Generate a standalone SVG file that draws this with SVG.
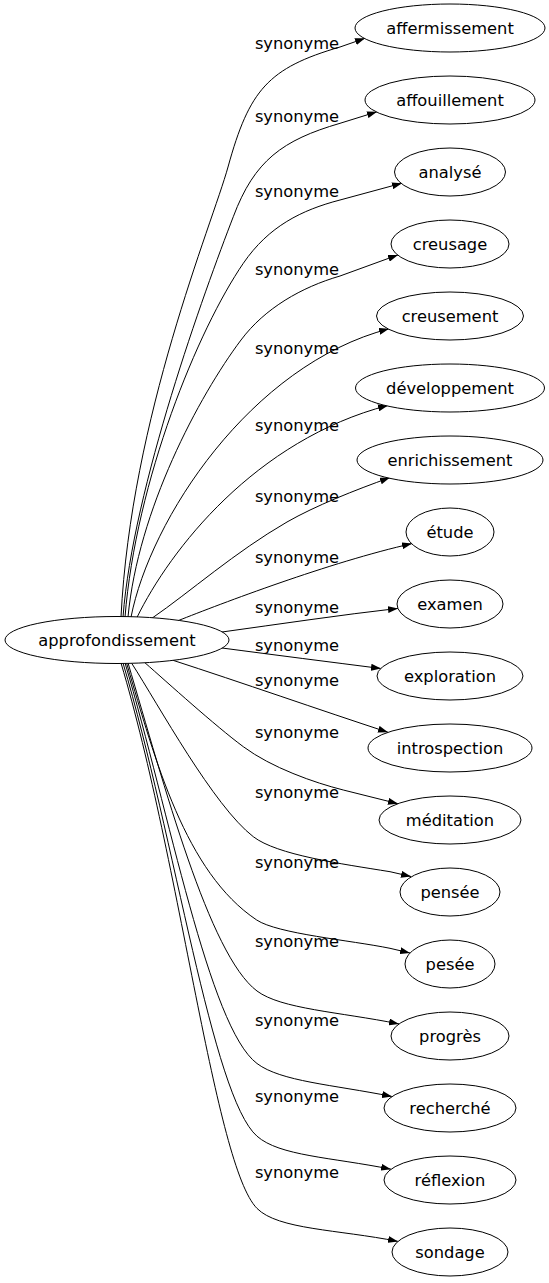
<svg xmlns="http://www.w3.org/2000/svg" width="549" height="1283" viewBox="0 0 549 1283">
<defs>
<marker id="ah" markerWidth="10" markerHeight="7" refX="10" refY="3.5" orient="auto" markerUnits="userSpaceOnUse">
<path d="M0,0 L10,3.5 L0,7 Z" fill="#000"/>
</marker>
<style>
.n ellipse{fill:#fff;stroke:#000;stroke-width:1}
.n text,.lbl{font-family:"DejaVu Sans","Liberation Sans",sans-serif;font-size:16.3px;fill:#000;text-anchor:middle}
.e path{fill:none;stroke:#000;stroke-width:1;marker-end:url(#ah)}
</style>
</defs>
<rect width="549" height="1283" fill="#fff"/>
<g id="edges" class="e">
<path d="M121,617 C131,417 212,224.8 228,167 C249.3,89.9 268,68 340,47 L365,38.3"/>
<path d="M123,617 C133,487 205,290 233.3,216.7 C254.4,160.5 282.4,140.1 340,123.3 L377,111.8"/>
<path d="M125,617.1 C136,480 198.1,329.3 243.3,263.3 C268.7,226.2 301.6,210 340,200 L402,183.2"/>
<path d="M128,617.1 C138,510 199,396 241,340 C265,308 301.6,287.2 340,276 L398,254.9"/>
<path d="M131,617.2 C150,520 250,365 389,328.8"/>
<path d="M137,617.4 C170,550 255,440 388,405.4"/>
<path d="M152,618.2 C190,592 235,552 287,522 C315,506 355,490 390,477.6"/>
<path d="M178,620.7 C220,604 330,562 412,543.6"/>
<path d="M222,632 C280,624 340,615 398,608.4"/>
<path d="M222,648 C275,655 330,662 381,668.5"/>
<path d="M173,660.3 C240,682 320,710 388,732.3"/>
<path d="M145,662.8 C167.5,682.6 215.2,725.8 243.3,746.7 C271.4,767.6 314.2,782.7 343.3,790 L398,803.7"/>
<path d="M131.7,663.3 C158.7,705.3 213.7,806.2 253.3,836.7 C277.1,855 340.6,863.7 390,871.7 L411,876.5"/>
<path d="M126.7,663.5 C155.4,760.9 185.3,872.4 256.7,920 C277.5,933.8 350.8,940.3 390,948.3 L410,953"/>
<path d="M128,662.9 C164,784.3 209,955 257,991 C281,1009 339,1011.9 399,1023.9"/>
<path d="M125,662.9 C169,810.9 209,1027.5 257,1063.5 C281,1081.5 332,1084.5 392,1096.5"/>
<path d="M123,663 C175,838 212,1096.6 257,1136.2 C279.5,1156 331,1157.2 391,1169.2"/>
<path d="M121,663 C181,864.7 215,1165.8 257,1208.4 C278,1229.7 338,1229.4 398,1241.4"/>
</g>
<g id="edge-labels">
<text class="lbl" x="297" y="49">synonyme</text>
<text class="lbl" x="297" y="122">synonyme</text>
<text class="lbl" x="297" y="197">synonyme</text>
<text class="lbl" x="297" y="275">synonyme</text>
<text class="lbl" x="297" y="354">synonyme</text>
<text class="lbl" x="297" y="431">synonyme</text>
<text class="lbl" x="297" y="502">synonyme</text>
<text class="lbl" x="297" y="563">synonyme</text>
<text class="lbl" x="297" y="613">synonyme</text>
<text class="lbl" x="297" y="651">synonyme</text>
<text class="lbl" x="297" y="686">synonyme</text>
<text class="lbl" x="297" y="738">synonyme</text>
<text class="lbl" x="297" y="798">synonyme</text>
<text class="lbl" x="297" y="868">synonyme</text>
<text class="lbl" x="297" y="947">synonyme</text>
<text class="lbl" x="297" y="1026">synonyme</text>
<text class="lbl" x="297" y="1102">synonyme</text>
<text class="lbl" x="297" y="1178">synonyme</text>
</g>
<g id="n-approfondissement" class="n"><ellipse cx="117" cy="640" rx="112" ry="23.5"/><text x="117" y="645.5">approfondissement</text></g>
<g id="n-affermissement" class="n"><ellipse cx="450" cy="28" rx="95" ry="24"/><text x="450" y="33.5">affermissement</text></g>
<g id="n-affouillement" class="n"><ellipse cx="450" cy="100" rx="85" ry="24"/><text x="450" y="105.5">affouillement</text></g>
<g id="n-analyse" class="n"><ellipse cx="450" cy="172" rx="55.5" ry="24"/><text x="450" y="177.5">analysé</text></g>
<g id="n-creusage" class="n"><ellipse cx="450" cy="244" rx="59" ry="24"/><text x="450" y="249.5">creusage</text></g>
<g id="n-creusement" class="n"><ellipse cx="450" cy="316" rx="73.5" ry="24"/><text x="450" y="321.5">creusement</text></g>
<g id="n-developpement" class="n"><ellipse cx="450" cy="388" rx="94.5" ry="24"/><text x="450" y="393.5">développement</text></g>
<g id="n-enrichissement" class="n"><ellipse cx="450" cy="460" rx="93" ry="24"/><text x="450" y="465.5">enrichissement</text></g>
<g id="n-etude" class="n"><ellipse cx="450" cy="532" rx="44" ry="24"/><text x="450" y="537.5">étude</text></g>
<g id="n-examen" class="n"><ellipse cx="450" cy="604" rx="53" ry="24"/><text x="450" y="609.5">examen</text></g>
<g id="n-exploration" class="n"><ellipse cx="450" cy="676" rx="73" ry="24"/><text x="450" y="681.5">exploration</text></g>
<g id="n-introspection" class="n"><ellipse cx="450" cy="748" rx="82" ry="24"/><text x="450" y="753.5">introspection</text></g>
<g id="n-meditation" class="n"><ellipse cx="450" cy="820" rx="71" ry="24"/><text x="450" y="825.5">méditation</text></g>
<g id="n-pensee" class="n"><ellipse cx="450" cy="892" rx="50" ry="24"/><text x="450" y="897.5">pensée</text></g>
<g id="n-pesee" class="n"><ellipse cx="450" cy="964" rx="45" ry="24"/><text x="450" y="969.5">pesée</text></g>
<g id="n-progres" class="n"><ellipse cx="450" cy="1036" rx="59" ry="24"/><text x="450" y="1041.5">progrès</text></g>
<g id="n-recherche" class="n"><ellipse cx="450" cy="1108" rx="66" ry="24"/><text x="450" y="1113.5">recherché</text></g>
<g id="n-reflexion" class="n"><ellipse cx="450" cy="1180" rx="66" ry="24"/><text x="450" y="1185.5">réflexion</text></g>
<g id="n-sondage" class="n"><ellipse cx="450" cy="1252" rx="58" ry="24"/><text x="450" y="1257.5">sondage</text></g>
</svg>
